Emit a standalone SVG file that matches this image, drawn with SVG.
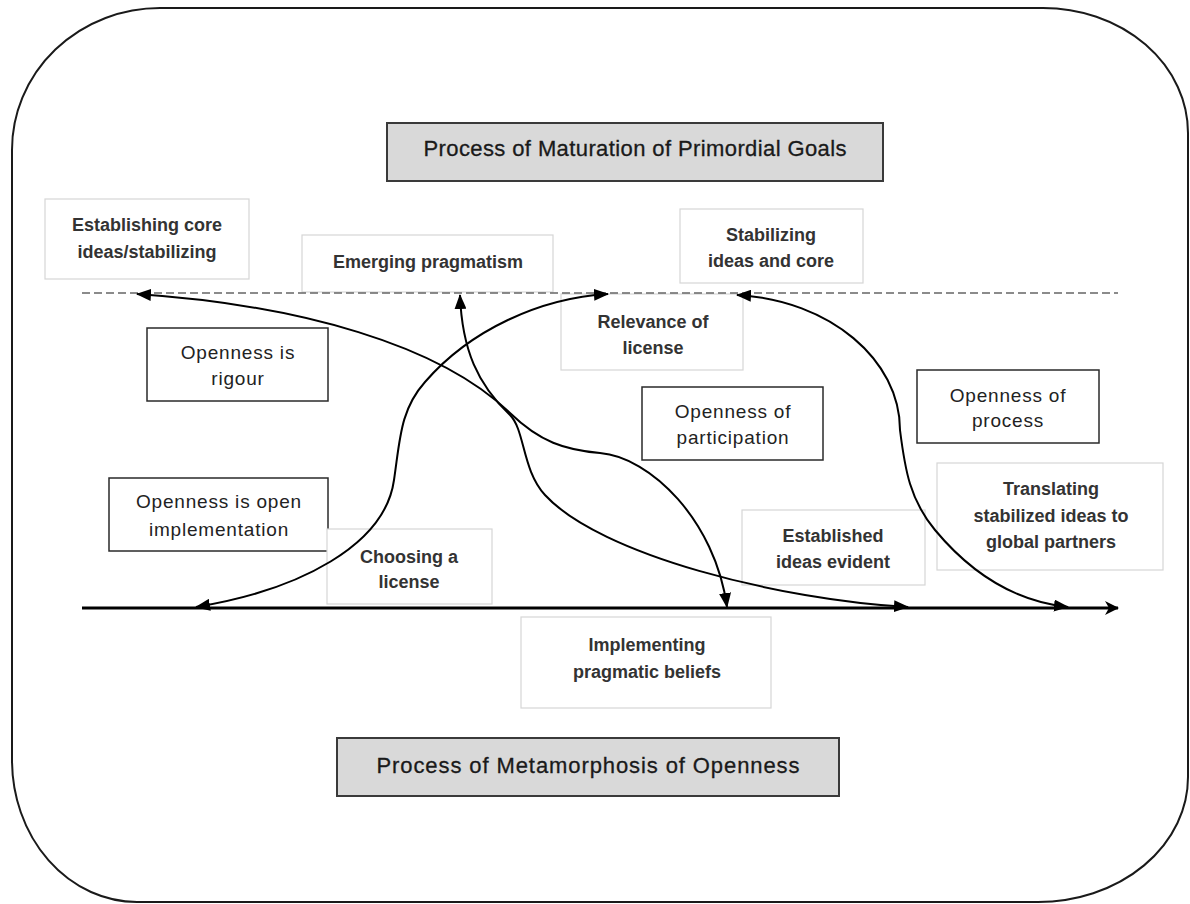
<svg xmlns="http://www.w3.org/2000/svg" width="1190" height="904" viewBox="0 0 1190 904">
<defs>
<marker id="ah" viewBox="0 0 15 12" refX="14" refY="6" markerWidth="15" markerHeight="12" markerUnits="userSpaceOnUse" orient="auto-start-reverse"><path d="M0,0 L15,6 L0,12 Z" fill="#000"/></marker>
<marker id="axh" viewBox="0 0 14 14" refX="13" refY="7" markerWidth="14" markerHeight="14" markerUnits="userSpaceOnUse" orient="auto"><path d="M0,0 L14,7 L0,14 L4,7 Z" fill="#000"/></marker>
</defs>
<style>
.frame{fill:#fff;stroke:#1a1a1a;stroke-width:2}
.title rect{fill:#d9d9d9;stroke:#3a3a3a;stroke-width:2}
.title text{font-family:"Liberation Sans",Arial,sans-serif;font-size:22px;fill:#1a1a1a;stroke:#1a1a1a;stroke-width:0.3;text-anchor:middle}
.soft rect{fill:#fff;stroke:#d6d6d6;stroke-width:1.2}
.soft text{font-family:"Liberation Sans",Arial,sans-serif;font-size:18px;font-weight:bold;fill:#333;text-anchor:middle}
.hard rect{fill:#fff;stroke:#2a2a2a;stroke-width:1.5}
.hard text{font-family:"Liberation Sans",Arial,sans-serif;font-size:19px;fill:#222;letter-spacing:0.8px;text-anchor:middle}
.curve{fill:none;stroke:#000;stroke-width:2}
.dash{fill:none;stroke:#666;stroke-width:1.5;stroke-dasharray:8 4}
.axis{fill:none;stroke:#000;stroke-width:3}
</style>
<path class="frame" d="M160,8 L1043,8 A145,125 0 0 1 1188,133 L1188,777 A150,125 0 0 1 1038,902 L137,902 A125,142 0 0 1 12,760 L12,150 A148,142 0 0 1 160,8 Z"/>

<g id="title-top" class="title"><rect x="387" y="123" width="496" height="58"/><text x="635" y="156" textLength="423" lengthAdjust="spacing">Process of Maturation of Primordial Goals</text></g>
<g id="title-bottom" class="title"><rect x="337" y="738" width="502" height="58"/><text x="588" y="773" textLength="423" lengthAdjust="spacing">Process of Metamorphosis of Openness</text></g>

<g id="n-establishing" class="soft"><rect x="45" y="199" width="204" height="80"/><text><tspan x="147" y="231">Establishing core</tspan><tspan x="147" y="258">ideas/stabilizing</tspan></text></g>
<g id="n-emerging" class="soft"><rect x="302" y="235" width="251" height="57"/><text x="428" y="268">Emerging pragmatism</text></g>
<g id="n-stabilizing" class="soft"><rect x="680" y="209" width="183" height="74"/><text><tspan x="771" y="241">Stabilizing</tspan><tspan x="771" y="267">ideas and core</tspan></text></g>
<g id="n-relevance" class="soft"><rect x="561" y="294" width="182" height="76"/><text><tspan x="653" y="328">Relevance of</tspan><tspan x="653" y="354">license</tspan></text></g>
<g id="n-rigour" class="hard"><rect x="147" y="328" width="181" height="73"/><text><tspan x="238" y="359">Openness is</tspan><tspan x="238" y="385">rigour</tspan></text></g>
<g id="n-openimpl" class="hard"><rect x="109" y="478" width="219" height="73"/><text><tspan x="219" y="508">Openness is open</tspan><tspan x="219" y="536">implementation</tspan></text></g>
<g id="n-choosing" class="soft"><rect x="327" y="529" width="165" height="75"/><text><tspan x="409" y="563">Choosing a</tspan><tspan x="409" y="588">license</tspan></text></g>
<g id="n-participation" class="hard"><rect x="642" y="387" width="181" height="73"/><text><tspan x="733" y="418">Openness of</tspan><tspan x="733" y="444">participation</tspan></text></g>
<g id="n-established" class="soft"><rect x="742" y="510" width="183" height="75"/><text><tspan x="833" y="542">Established</tspan><tspan x="833" y="568">ideas evident</tspan></text></g>
<g id="n-process" class="hard"><rect x="917" y="370" width="182" height="73"/><text><tspan x="1008" y="402">Openness of</tspan><tspan x="1008" y="427">process</tspan></text></g>
<g id="n-translating" class="soft"><rect x="937" y="463" width="226" height="107"/><text><tspan x="1051" y="495">Translating</tspan><tspan x="1051" y="522">stabilized ideas to</tspan><tspan x="1051" y="548">global partners</tspan></text></g>
<g id="n-implementing" class="soft"><rect x="521" y="617" width="250" height="91"/><text><tspan x="647" y="651">Implementing</tspan><tspan x="647" y="678">pragmatic beliefs</tspan></text></g>

<g id="connectors">
<path class="dash" d="M82,293 L1118,293"/>
<path class="axis" d="M82,608 L1118,608" marker-end="url(#axh)"/>
<path class="curve" d="M196,607 C300,590 385,545 394,480 C400,440 400,410 425,382 C470,330 540,298 608,294" marker-start="url(#ah)" marker-end="url(#ah)"/>
<path class="curve" d="M137,294 C300,305 440,345 510,413 C540,442 565,450 600,453 C650,457 715,520 727,607" marker-start="url(#ah)" marker-end="url(#ah)"/>
<path class="curve" d="M460,295 C462,350 478,385 510,415 C525,430 522,470 545,495 C600,555 780,600 908,607" marker-start="url(#ah)" marker-end="url(#ah)"/>
<path class="curve" d="M737,295 C830,300 900,360 900,430 C905,470 910,500 935,530 C975,578 1020,602 1068,607" marker-start="url(#ah)" marker-end="url(#ah)"/>
</g>
</svg>
